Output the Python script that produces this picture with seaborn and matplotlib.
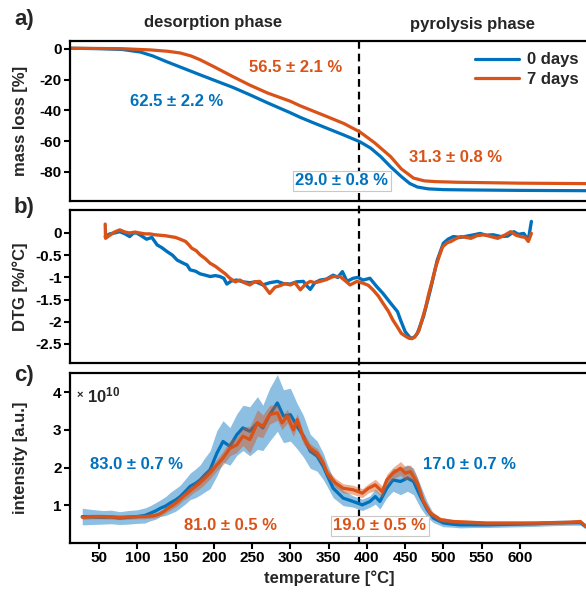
import matplotlib
matplotlib.use("Agg")
import matplotlib.pyplot as plt
import seaborn as sns
import numpy as np
from matplotlib.transforms import blended_transform_factory
from matplotlib.lines import Line2D

# ---------------- data ----------------
series_names = ["0 days", "7 days"]
colors = ["#0072BD", "#D95319"]

# a) mass loss (TG)
tg_temp_0d = [12, 50, 80, 104, 120, 139, 160, 182, 204, 225, 248, 270, 300, 313, 330,
              350, 370, 391, 405, 418, 431, 445, 456, 466, 480, 500, 530, 600, 689]
tg_0d = [0.5, 0.2, -0.3, -2.0, -4.5, -8.4, -12.5, -16.8, -21, -25, -30, -35, -41.5, -44.5, -48,
         -52, -56, -60.4, -64.5, -70, -76.6, -83, -87.5, -89.8, -91, -91.5, -91.7, -92, -92.2]
tg_temp_7d = [12, 80, 117, 140, 156, 170, 182, 200, 225, 247, 270, 300, 313, 343, 370,
              391, 410, 431, 445, 461, 475, 490, 518, 600, 689]
tg_7d = [0.5, 0.2, -0.6, -1.5, -2.6, -4.5, -7, -11.5, -18, -23.5, -28.6, -34, -37, -43, -48.5,
         -54, -61, -70, -78, -84, -85.8, -86.3, -86.7, -87.3, -87.6]

# b) DTG
dtg_temp_0d = [58, 64, 70, 77, 84, 90, 95, 99, 105, 112,
               119, 126, 132, 139, 146, 152, 160, 165, 169, 176,
               182, 189, 195, 202, 208, 213, 217, 223, 230, 238,
               247, 255, 264, 273, 283, 291, 300, 308, 317, 322,
               326, 332, 339, 347, 356, 362, 368, 374, 382, 388,
               395, 404, 413, 421, 431, 440, 444, 450, 457, 462,
               466, 474, 483, 492, 500, 506, 513, 522, 531, 540,
               548, 556, 565, 575, 584, 592, 598, 605, 611, 615]
dtg_0d = [-0.08, -0.02, 0.00, 0.03, -0.02, -0.08, 0.00, 0.00, -0.06, -0.14,
          -0.10, -0.27, -0.33, -0.42, -0.50, -0.61, -0.68, -0.72, -0.83, -0.86,
          -0.92, -0.95, -0.98, -0.96, -0.98, -1.02, -1.15, -1.08, -1.06, -1.10,
          -1.12, -1.10, -1.17, -1.12, -1.09, -1.14, -1.15, -1.10, -1.09, -1.20,
          -1.27, -1.12, -1.06, -1.04, -0.95, -1.00, -0.87, -1.09, -1.02, -1.00,
          -1.06, -1.02, -1.21, -1.36, -1.58, -1.77, -1.96, -2.22, -2.37, -2.35,
          -2.26, -1.88, -1.28, -0.61, -0.23, -0.14, -0.08, -0.10, -0.07, -0.04,
          -0.01, -0.05, -0.04, -0.08, -0.07, 0.03, -0.03, -0.01, -0.16, 0.26]
dtg_temp_7d = [58, 58.5, 64, 70, 77, 84, 90, 97, 103, 110,
               116, 123, 129, 136, 143, 150, 156, 163, 167, 171,
               177, 182, 189, 195, 202, 208, 215, 221, 228, 234,
               240, 247, 253, 260, 266, 273, 280, 286, 293, 300,
               306, 313, 320, 326, 332, 339, 347, 356, 365, 372,
               378, 387, 395, 402, 408, 415, 421, 428, 434, 440,
               445, 450, 455, 459, 463, 468, 472, 477, 481, 486,
               490, 495, 499, 505, 510, 516, 523, 530, 536, 544,
               553, 562, 571, 580, 588, 595, 601, 607, 611, 615]
dtg_7d = [0.20, -0.12, -0.05, 0.02, 0.07, 0.02, 0.00, 0.02, 0.00, -0.02,
          -0.02, -0.04, -0.05, -0.06, -0.08, -0.10, -0.14, -0.19, -0.26, -0.34,
          -0.40, -0.49, -0.58, -0.68, -0.75, -0.83, -0.92, -1.02, -1.10, -1.06,
          -1.12, -1.17, -1.10, -1.09, -1.20, -1.36, -1.22, -1.19, -1.14, -1.17,
          -1.12, -1.28, -1.15, -1.09, -1.12, -1.09, -1.05, -0.98, -0.98, -1.08,
          -1.17, -1.09, -1.13, -1.18, -1.28, -1.42, -1.58, -1.76, -1.96, -2.12,
          -2.26, -2.32, -2.37, -2.38, -2.33, -2.20, -1.96, -1.66, -1.36, -1.04,
          -0.76, -0.50, -0.31, -0.22, -0.19, -0.13, -0.08, -0.10, -0.12, -0.06,
          -0.04, -0.08, -0.12, -0.05, 0.03, -0.05, -0.08, -0.10, -0.19, -0.01]

# c) MS intensity (x 1e10), mean and spread
int_temp_0d = [28, 40, 55, 66, 77, 88, 100, 110, 117, 124,
               130, 137, 143, 150, 156, 163, 169, 176, 182, 188,
               195, 204, 212, 221, 230, 238, 247, 257, 264, 273,
               283, 291, 300, 309, 317, 326, 335, 343, 348, 356,
               369, 382, 394, 404, 411, 417, 426, 434, 444, 453,
               461, 470, 479, 487, 500, 511, 522, 540, 557, 580,
               601, 620, 644, 665, 679, 686]
int_0d = [0.70, 0.69, 0.68, 0.69, 0.66, 0.68, 0.70, 0.73, 0.79, 0.85,
          0.92, 0.98, 1.06, 1.14, 1.23, 1.37, 1.50, 1.58, 1.67, 1.80,
          1.94, 2.38, 2.69, 2.56, 2.87, 3.05, 2.96, 3.18, 3.05, 3.40,
          3.71, 3.36, 3.40, 3.09, 2.83, 2.43, 2.30, 2.03, 1.80, 1.45,
          1.19, 1.10, 1.01, 1.10, 1.23, 1.10, 1.45, 1.67, 1.63, 1.72,
          1.63, 1.23, 0.88, 0.66, 0.53, 0.50, 0.48, 0.48, 0.48, 0.49,
          0.50, 0.51, 0.53, 0.54, 0.54, 0.44]
int_sd_0d = [.22, .20, .18, .18, .17, .18, .18, .20, .20, .22,
             .22, .25, .28, .30, .30, .33, .35, .38, .40, .45,
             .50, .60, .55, .50, .55, .60, .65, .70, .60, .70,
             .75, .70, .70, .60, .55, .45, .40, .35, .30, .25,
             .20, .15, .15, .15, .20, .20, .25, .30, .35, .35,
             .35, .30, .20, .12, .10, .08, .08, .07, .07, .07,
             .07, .07, .07, .07, .07, .07]
int_temp_7d = [28, 40, 55, 66, 77, 88, 100, 110, 121, 128,
               134, 140, 147, 153, 160, 166, 173, 180, 186, 195,
               204, 212, 221, 230, 238, 247, 257, 264, 273, 283,
               289, 296, 304, 309, 317, 326, 335, 343, 348, 359,
               369, 382, 394, 402, 411, 420, 426, 434, 444, 450,
               457, 466, 474, 483, 496, 513, 535, 557, 580, 601,
               620, 644, 665, 679, 686]
int_7d = [0.68, 0.70, 0.70, 0.69, 0.68, 0.69, 0.70, 0.70, 0.72, 0.76,
          0.83, 0.92, 1.01, 1.10, 1.23, 1.33, 1.45, 1.56, 1.67, 1.85,
          2.07, 2.25, 2.51, 2.60, 2.83, 2.74, 3.18, 3.09, 3.40, 3.45,
          3.18, 3.36, 3.00, 3.27, 2.78, 2.51, 2.38, 2.12, 1.85, 1.59,
          1.45, 1.41, 1.32, 1.45, 1.54, 1.36, 1.67, 1.85, 1.98, 1.85,
          1.89, 1.59, 1.10, 0.79, 0.62, 0.57, 0.55, 0.53, 0.53, 0.53,
          0.53, 0.54, 0.55, 0.57, 0.44]
int_sd_7d = [.06, .06, .06, .06, .06, .06, .06, .06, .06, .07,
             .07, .08, .09, .10, .10, .12, .12, .14, .15, .15,
             .15, .18, .20, .20, .25, .35, .35, .30, .25, .20,
             .18, .18, .18, .15, .15, .12, .12, .12, .12, .12,
             .12, .12, .12, .12, .15, .15, .15, .15, .18, .18,
             .18, .15, .10, .08, .06, .05, .05, .05, .05, .05,
             .05, .05, .05, .05, .05]

phase_boundary = 390
x_ticks = [50, 100, 150, 200, 250, 300, 350, 400, 450, 500, 550, 600]

# ---------------- style ----------------
sns.set_theme(style="ticks")
plt.rcParams.update({
    "font.family": ["Liberation Sans", "DejaVu Sans"],
    "font.weight": "bold",
    "axes.labelweight": "bold",
    "axes.unicode_minus": False,
    "mathtext.default": "regular",
})

W_PX, H_PX = 586, 592
fig = plt.figure(figsize=(W_PX / 100, H_PX / 100), dpi=100)
fig.patch.set_facecolor("white")

def make_ax(top, bot):
    ax = fig.add_axes([70 / W_PX, 1 - bot / H_PX, 518 / W_PX, (bot - top) / H_PX])
    ax.set_facecolor("none")
    for s in ax.spines.values():
        s.set_linewidth(1.6)
        s.set_color("black")
    ax.tick_params(direction="out", length=4, width=1.5, labelsize=11, colors="black", pad=2)
    ax.set_xlim(12, 689)
    return ax

ax_a = make_ax(41, 201)
ax_b = make_ax(210, 363)
ax_c = make_ax(373, 543)

# ---- a) ----
sns.lineplot(x=tg_temp_0d, y=tg_0d, ax=ax_a, color=colors[0], linewidth=2.3, label=series_names[0])
sns.lineplot(x=tg_temp_7d, y=tg_7d, ax=ax_a, color=colors[1], linewidth=2.3, label=series_names[1])
ax_a.set_ylim(-98.9, 5.2)
ax_a.set_yticks([0, -20, -40, -60, -80])
ax_a.set_xticks([])
ax_a.set_ylabel("mass loss [%]", fontsize=12)
leg = ax_a.legend(loc="upper right", bbox_to_anchor=(0.995, 0.97), frameon=False, fontsize=12,
                  handlelength=2.6, labelspacing=0.25, handletextpad=0.5, borderaxespad=0)
for h in leg.get_lines():
    h.set_linewidth(2.3)

txt_kw = dict(fontsize=12, fontweight="bold", ha="center", va="center", zorder=5)
box_kw = dict(boxstyle="square,pad=0.15", fc="white", ec="#C8C8C8", lw=0.8)
ax_a.text(0.436, 0.8375, "56.5 ± 2.1 %", color=colors[1], transform=ax_a.transAxes, **txt_kw)
ax_a.text(0.2066, 0.619, "62.5 ± 2.2 %", color=colors[0], transform=ax_a.transAxes, **txt_kw)
ax_a.text(0.525, 0.125, "29.0 ± 0.8 %", color=colors[0], transform=ax_a.transAxes, bbox=box_kw, **txt_kw)
ax_a.text(0.745, 0.269, "31.3 ± 0.8 %", color=colors[1], transform=ax_a.transAxes, **txt_kw)

# ---- b) ----
sns.lineplot(x=dtg_temp_0d, y=dtg_0d, ax=ax_b, color=colors[0], linewidth=2.4, legend=False)
sns.lineplot(x=dtg_temp_7d, y=dtg_7d, ax=ax_b, color=colors[1], linewidth=2.4, legend=False)
ax_b.set_ylim(-2.928, 0.518)
ax_b.set_yticks([0, -0.5, -1, -1.5, -2, -2.5])
ax_b.set_yticklabels(["0", "-0.5", "-1", "-1.5", "-2", "-2.5"])
ax_b.set_xticks([])
ax_b.set_ylabel("DTG [%/°C]", fontsize=12)

# ---- c) ----
lo0 = np.array(int_0d) - np.array(int_sd_0d)
hi0 = np.array(int_0d) + np.array(int_sd_0d)
lo7 = np.array(int_7d) - np.array(int_sd_7d)
hi7 = np.array(int_7d) + np.array(int_sd_7d)
ax_c.fill_between(int_temp_0d, lo0, hi0, color=colors[0], alpha=0.45, lw=0, zorder=1)
sns.lineplot(x=int_temp_0d, y=int_0d, ax=ax_c, color=colors[0], linewidth=2.3, legend=False, zorder=2)
ax_c.fill_between(int_temp_7d, lo7, hi7, color=colors[1], alpha=0.45, lw=0, zorder=3)
sns.lineplot(x=int_temp_7d, y=int_7d, ax=ax_c, color=colors[1], linewidth=2.3, legend=False, zorder=4)
ax_c.set_ylim(0, 4.504)
ax_c.set_yticks([1, 2, 3, 4])
ax_c.set_xticks(x_ticks)
ax_c.set_xticklabels([str(t) for t in x_ticks])
ax_c.set_ylabel("intensity [a.u.]", fontsize=12)
ax_c.set_xlabel("temperature [°C]", fontsize=12, labelpad=3)
ax_c.xaxis.set_label_coords((329 - 70) / 518, -0.16)
ax_c.text(0.012, 0.87, "×", fontsize=8, fontweight="bold", transform=ax_c.transAxes, va="center", ha="left")
ax_c.text(0.032, 0.87, "10$^{10}$", fontsize=12, fontweight="bold", transform=ax_c.transAxes, va="center", ha="left")
ax_c.text(0.128, 0.459, "83.0 ± 0.7 %", color=colors[0], transform=ax_c.transAxes, **txt_kw)
ax_c.text(0.309, 0.100, "81.0 ± 0.5 %", color=colors[1], transform=ax_c.transAxes, **txt_kw)
ax_c.text(0.5975, 0.100, "19.0 ± 0.5 %", color=colors[1], transform=ax_c.transAxes, bbox=box_kw, **txt_kw)
ax_c.text(0.772, 0.459, "17.0 ± 0.7 %", color=colors[0], transform=ax_c.transAxes, **txt_kw)

for ax in (ax_a, ax_b, ax_c):
    ax.yaxis.set_label_coords(-0.082, 0.5)
    ax.set_xlim(12, 689)

# phase boundary dashed line across all panels
trans = blended_transform_factory(ax_c.transData, fig.transFigure)
fig.add_artist(Line2D([phase_boundary, phase_boundary], [1 - 41 / H_PX, 1 - 543 / H_PX],
                      transform=trans, color="black", lw=1.6, ls=(0, (3.5, 2.2)), zorder=-1))

# panel letters and phase titles
fig.text(14 / W_PX, 1 - 20 / H_PX, "a)", fontsize=16, fontweight="bold", va="center", ha="left")
fig.text(14 / W_PX, 1 - 207 / H_PX, "b)", fontsize=16, fontweight="bold", va="center", ha="left")
fig.text(14 / W_PX, 1 - 376 / H_PX, "c)", fontsize=16, fontweight="bold", va="center", ha="left")
fig.text(213 / W_PX, 1 - 22 / H_PX, "desorption phase", fontsize=12, fontweight="bold", ha="center", va="center")
fig.text(473 / W_PX, 1 - 25 / H_PX, "pyrolysis phase", fontsize=12, fontweight="bold", ha="center", va="center")

fig.savefig("out.png", dpi=100, facecolor="white")
